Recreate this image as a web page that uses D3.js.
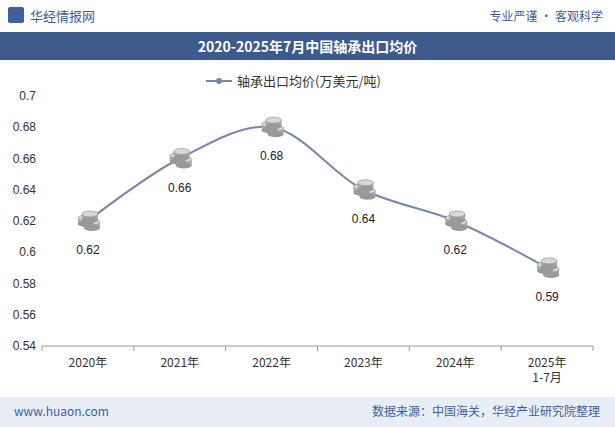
<!DOCTYPE html>
<html><head><meta charset="utf-8">
<script src="https://cdn.jsdelivr.net/npm/d3@7/dist/d3.min.js"></script>
<style>body{margin:0;background:#fff;font-family:"Noto Sans CJK SC","Noto Sans",sans-serif}</style>
</head><body><div id="chart"></div>
<script>
const years = ["2020年", "2021年", "2022年", "2023年", "2024年", "2025年\n1-7月"];
const prices = [0.62, 0.66, 0.68, 0.64, 0.62, 0.59];
const yTicks = [0.54, 0.56, 0.58, 0.6, 0.62, 0.64, 0.66, 0.68, 0.7];
const seriesName = "轴承出口均价(万美元/吨)";
const title = "2020-2025年7月中国轴承出口均价";

const width = 615, height = 427;
const svg = d3.select("#chart").append("svg").attr("width", width).attr("height", height);

// header
svg.append("rect").attr("x", 8).attr("y", 7).attr("width", 16).attr("height", 16).attr("fill", "#3d5f9e").attr("rx", 2);
svg.append("text").attr("x", 30).attr("y", 21).attr("font-size", 13).attr("fill", "#3d5f9e").text("华经情报网");
svg.append("text").attr("x", 603).attr("y", 21).attr("text-anchor", "end").attr("font-size", 12).attr("fill", "#3d5f9e").text("专业严谨 • 客观科学");
svg.append("rect").attr("x", 0).attr("y", 32).attr("width", width).attr("height", 28).attr("fill", "#3d5a8c");
svg.append("text").attr("x", width / 2).attr("y", 52).attr("text-anchor", "middle").attr("font-size", 14).attr("font-weight", "bold").attr("fill", "#fff").text(title);

// legend
svg.append("line").attr("x1", 206).attr("x2", 232).attr("y1", 81).attr("y2", 81).attr("stroke", "#7887a8").attr("stroke-width", 2);
svg.append("circle").attr("cx", 219).attr("cy", 81).attr("r", 3).attr("fill", "#7887a8");
svg.append("text").attr("x", 237).attr("y", 86).attr("font-size", 13).attr("fill", "#333").text(seriesName);

const x = d3.scaleBand().domain(years).range([42, 593]);
const y = d3.scaleLinear().domain([0.54, 0.7]).range([346, 96]);

svg.append("g").selectAll("text").data(yTicks).join("text")
  .attr("x", 36).attr("y", d => y(d) + 4).attr("text-anchor", "end").attr("font-size", 12).attr("fill", "#333")
  .attr("font-family", "Liberation Sans, Arial").text(d => d);

svg.append("line").attr("x1", 42).attr("x2", 593).attr("y1", 346).attr("y2", 346).attr("stroke", "#999");
svg.append("g").selectAll("line").data(years).join("line")
  .attr("x1", d => x(d) + x.bandwidth()).attr("x2", d => x(d) + x.bandwidth()).attr("y1", 346).attr("y2", 351).attr("stroke", "#999");
svg.append("line").attr("x1", 42).attr("x2", 42).attr("y1", 346).attr("y2", 351).attr("stroke", "#999");
years.forEach(d => {
  const t = svg.append("text").attr("x", x(d) + x.bandwidth() / 2).attr("y", 367).attr("text-anchor", "middle").attr("font-size", 12).attr("fill", "#333");
  d.split("\n").forEach((s, i) => t.append("tspan").attr("x", x(d) + x.bandwidth() / 2).attr("dy", i ? 15 : 0).text(s));
});

const cx = (d, i) => x(years[i]) + x.bandwidth() / 2;
svg.append("path").datum(prices)
  .attr("d", d3.line().x(cx).y(d => y(d)).curve(d3.curveCatmullRom))
  .attr("fill", "none").attr("stroke", "#7887a8").attr("stroke-width", 2);

// coin markers
prices.forEach((d, i) => {
  const px = cx(d, i), py = y(d);
  [[4, 4], [-2, 0], [2, -4]].forEach(([dx, dy]) => {
    svg.append("rect").attr("x", px + dx - 8).attr("y", py + dy - 3).attr("width", 16).attr("height", 6).attr("fill", "#aaa");
    svg.append("ellipse").attr("cx", px + dx).attr("cy", py + dy + 3).attr("rx", 8).attr("ry", 3).attr("fill", "#999");
    svg.append("ellipse").attr("cx", px + dx).attr("cy", py + dy - 3).attr("rx", 8).attr("ry", 3).attr("fill", "#d8d8d8").attr("stroke", "#888").attr("stroke-width", 0.6);
  });
  svg.append("text").attr("x", px).attr("y", py + 33).attr("text-anchor", "middle").attr("font-size", 12).attr("fill", "#222")
    .attr("font-family", "Liberation Sans, Arial").text(d);
});

// footer
svg.append("rect").attr("x", 0).attr("y", 397).attr("width", width).attr("height", 30).attr("fill", "#e9eef6");
svg.append("text").attr("x", 14).attr("y", 416).attr("font-size", 12).attr("fill", "#3d5f9e").text("www.huaon.com");
svg.append("text").attr("x", 600).attr("y", 416).attr("text-anchor", "end").attr("font-size", 12).attr("fill", "#3d5f9e").text("数据来源：中国海关，华经产业研究院整理");
</script></body></html>
